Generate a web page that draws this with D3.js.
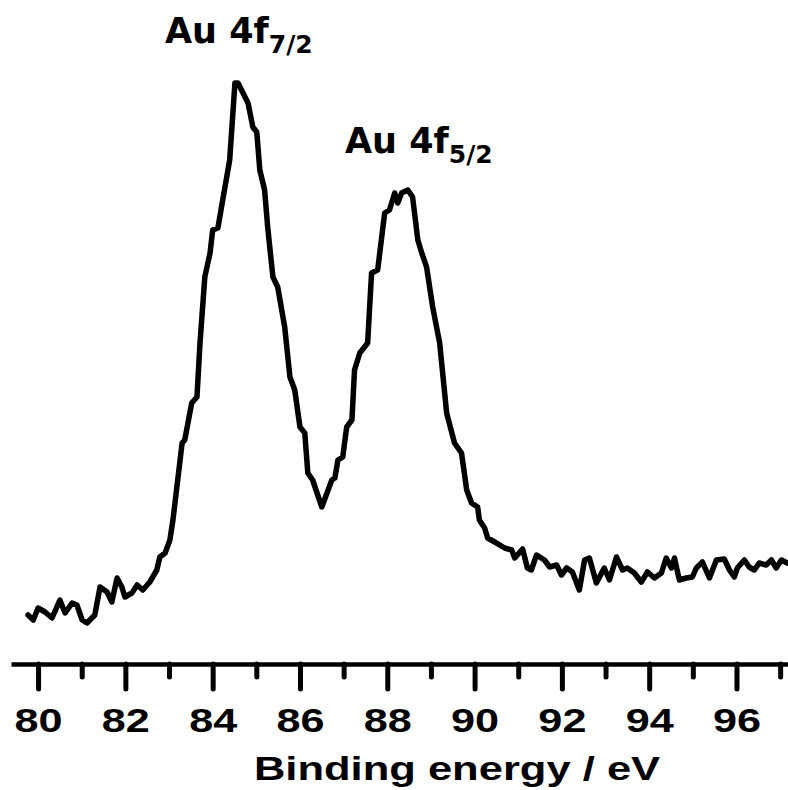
<!DOCTYPE html>
<html>
<head>
<meta charset="utf-8">
<script src="https://cdn.jsdelivr.net/npm/d3@7"></script>
<style>
  body { margin: 0; background: #fff; }
  svg { display: block; }
</style>
</head>
<body>
<script>
// XPS spectrum, Au 4f region (intensity in arbitrary units)
var energy = [
  79.77, 79.89, 80.00, 80.16, 80.32, 80.43, 80.50, 80.62, 80.78, 80.89,
  81.01, 81.12, 81.30, 81.42, 81.58, 81.69, 81.81, 81.92, 81.99, 82.15,
  82.27, 82.40, 82.56, 82.72, 82.79, 82.91, 83.02, 83.09, 83.30, 83.36,
  83.52, 83.64, 83.71, 83.82, 83.94, 84.00, 84.12, 84.23, 84.39, 84.51,
  84.58, 84.81, 84.92, 85.01, 85.08, 85.19, 85.26, 85.38, 85.49, 85.65,
  85.77, 85.88, 86.00, 86.11, 86.18, 86.29, 86.50, 86.73, 86.80, 86.87,
  86.98, 87.07, 87.19, 87.25, 87.37, 87.55, 87.64, 87.78, 87.94, 88.05,
  88.17, 88.24, 88.33, 88.47, 88.58, 88.70, 88.79, 88.90, 89.04, 89.20,
  89.36, 89.54, 89.70, 89.82, 89.93, 90.07, 90.11, 90.23, 90.30, 90.46,
  90.69, 90.85, 90.92, 91.10, 91.21, 91.30, 91.42, 91.60, 91.72, 91.88,
  91.99, 92.11, 92.24, 92.40, 92.52, 92.63, 92.79, 92.97, 93.09, 93.25,
  93.39, 93.50, 93.66, 93.82, 93.96, 94.12, 94.28, 94.39, 94.51, 94.58,
  94.69, 94.85, 94.99, 95.08, 95.22, 95.38, 95.54, 95.72, 95.84, 95.95,
  96.02, 96.18, 96.29, 96.41, 96.52, 96.68, 96.80, 96.91, 97.03, 97.16
];
var intensity = [
  7.0, 6.0, 8.4, 7.6, 6.4, 8.6, 10.0, 7.4, 9.4, 9.0,
  6.0, 5.4, 7.0, 12.6, 11.6, 9.6, 14.4, 12.6, 10.6, 11.4,
  13.0, 12.0, 13.6, 16.0, 18.6, 19.4, 22.0, 26.0, 41.4, 42.0,
  49.4, 50.6, 61.4, 74.6, 79.4, 84.0, 84.4, 90.0, 98.0, 113.4,
  113.4, 109.4, 104.6, 103.6, 96.0, 92.0, 84.6, 74.6, 72.6, 64.6,
  54.6, 52.0, 44.6, 43.4, 35.4, 34.0, 28.6, 34.0, 34.4, 38.0,
  38.6, 44.6, 46.0, 56.0, 59.4, 61.4, 75.4, 76.0, 87.4, 88.0,
  91.4, 89.4, 91.4, 92.0, 90.6, 82.0, 79.4, 76.6, 68.6, 61.4,
  47.4, 41.4, 39.4, 32.0, 29.4, 28.6, 26.0, 24.4, 22.4, 21.6,
  20.4, 20.0, 18.4, 20.2, 16.4, 16.0, 19.0, 18.0, 16.6, 17.0,
  15.0, 16.4, 15.6, 12.0, 18.0, 18.4, 13.4, 16.4, 14.0, 18.6,
  16.0, 16.4, 15.4, 13.6, 15.6, 14.4, 15.4, 18.4, 16.4, 18.4,
  14.0, 14.4, 14.6, 16.4, 17.6, 14.4, 18.0, 18.2, 16.0, 14.6,
  16.4, 18.0, 16.6, 16.0, 17.4, 17.0, 18.0, 16.4, 18.0, 17.4
];
var majorTicks = [80, 82, 84, 86, 88, 90, 92, 94, 96];
var minorTicks = [81, 83, 85, 87, 89, 91, 93, 95, 97];
var xLabel = "Binding energy / eV";
var peakNames = ["Au 4f", "Au 4f"];
var peakSubs = ["7/2", "5/2"];

var W = 788, H = 790;
var AXIS_Y = 664;

var svg = d3.select("body").append("svg")
  .attr("width", W)
  .attr("height", H);

var x = d3.scaleLinear().domain([79.38, 97.18]).range([11, W]);
var y = d3.scaleLinear().domain([0, 120]).range([650, 50]);

var pts = energy.map(function(e, i) { return [e, intensity[i]]; });

// spectrum
svg.append("path")
  .datum(pts)
  .attr("fill", "none")
  .attr("stroke", "#000")
  .attr("stroke-width", 5.5)
  .attr("stroke-linejoin", "round")
  .attr("stroke-linecap", "round")
  .attr("d", d3.line()
    .x(function(d) { return x(d[0]); })
    .y(function(d) { return y(d[1]); }));

// minor ticks
var minor = svg.append("g")
  .attr("transform", "translate(0," + AXIS_Y + ")")
  .call(d3.axisBottom(x).tickValues(minorTicks).tickSize(13).tickSizeOuter(0).tickFormat(""));
minor.select(".domain").remove();
minor.selectAll("line").attr("stroke", "#000").attr("stroke-width", 5).attr("stroke-linecap", "round");

// major ticks + axis line
var major = svg.append("g")
  .attr("transform", "translate(0," + AXIS_Y + ")")
  .call(d3.axisBottom(x).tickValues(majorTicks).tickSize(25).tickSizeOuter(0).tickFormat(d3.format("d")));
major.select(".domain").attr("stroke", "#000").attr("stroke-width", 4.5);
major.selectAll("line").attr("stroke", "#000").attr("stroke-width", 5).attr("stroke-linecap", "round");
major.selectAll("text")
  .attr("y", 68)
  .attr("dy", 0)
  .attr("fill", "#000")
  .attr("font-family", "'Liberation Sans', Arial, sans-serif")
  .attr("font-weight", "bold")
  .attr("font-size", "34px")
  .attr("transform", "scale(1.27,1)");

// axis title
svg.append("text")
  .attr("transform", "translate(457,780) scale(1.28,1)")
  .attr("text-anchor", "middle")
  .attr("font-family", "'Liberation Sans', Arial, sans-serif")
  .attr("font-weight", "bold")
  .attr("font-size", "34px")
  .text(xLabel);

// peak labels
var labelPos = [[165, 43], [345, 153]];
peakNames.forEach(function(name, i) {
  var t = svg.append("text")
    .attr("x", labelPos[i][0])
    .attr("y", labelPos[i][1])
    .attr("font-family", "'DejaVu Sans', Verdana, sans-serif")
    .attr("font-weight", "bold")
    .attr("font-size", "35px");
  t.append("tspan").text(name);
  t.append("tspan")
    .attr("font-size", "25px")
    .attr("dy", 10)
    .text(peakSubs[i]);
});
</script>
</body>
</html>
